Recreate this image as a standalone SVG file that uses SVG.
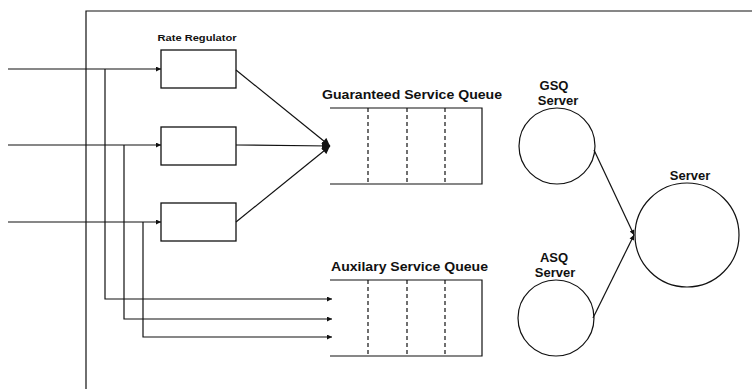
<svg xmlns="http://www.w3.org/2000/svg" width="752" height="389" viewBox="0 0 752 389">
<style>
.ln{stroke:#111;stroke-width:1.2;fill:none}
.bx{stroke:#111;stroke-width:1.3;fill:#fff}
.dash{stroke:#111;stroke-width:1.2;stroke-dasharray:4,3;fill:none}
.t{font-family:"Liberation Sans",Arial,sans-serif;font-weight:bold;fill:#111}
.s{font-size:13px;text-anchor:middle}
</style>
<defs>
<marker id="ah" viewBox="0 0 10 10" refX="10" refY="5" markerWidth="7" markerHeight="5" orient="auto" markerUnits="userSpaceOnUse">
<path d="M0,0 L10,5 L0,10 z" fill="#111"/>
</marker>
<marker id="ahb" viewBox="0 0 10 10" refX="10" refY="5" markerWidth="9" markerHeight="8" orient="auto" markerUnits="userSpaceOnUse">
<path d="M0,0 L10,5 L0,10 z" fill="#111"/>
</marker>
</defs>
<rect width="752" height="389" fill="#fff"/>
<g id="frame">
<path class="ln" d="M86,389 V11 H752"/>
</g>
<g id="rate-regulator-1">
<rect class="bx" x="161" y="50" width="75" height="38"/>
<text class="t" x="197" y="41" font-size="8.5" text-anchor="middle" textLength="79" lengthAdjust="spacingAndGlyphs">Rate Regulator</text>
</g>
<g id="rate-regulator-2">
<rect class="bx" x="161" y="127" width="75" height="38"/>
</g>
<g id="rate-regulator-3">
<rect class="bx" x="161" y="203" width="75" height="38"/>
</g>
<g id="gsq">
<text class="t" x="322" y="99" font-size="13" textLength="180" lengthAdjust="spacingAndGlyphs">Guaranteed Service Queue</text>
<path class="ln" d="M330,108 H482 V184 H330"/>
<path class="dash" d="M368,108 V184 M407,108 V184 M445,108 V184"/>
</g>
<g id="asq">
<text class="t" x="331" y="271" font-size="13" textLength="157" lengthAdjust="spacingAndGlyphs">Auxilary Service Queue</text>
<path class="ln" d="M330,280 H482 V356 H330"/>
<path class="dash" d="M368,280 V356 M407,280 V356 M445,280 V356"/>
</g>
<g id="gsq-server">
<text class="t s" x="554" y="90">GSQ</text>
<text class="t s" x="558" y="105">Server</text>
<circle class="ln" cx="557" cy="146" r="38"/>
</g>
<g id="asq-server">
<text class="t s" x="554" y="262">ASQ</text>
<text class="t s" x="555" y="277">Server</text>
<circle class="ln" cx="556" cy="318" r="38"/>
</g>
<g id="server">
<text class="t s" x="690" y="180">Server</text>
<circle class="ln" cx="687" cy="235" r="52"/>
</g>
<g id="connectors">
<path class="ln" d="M8,69 H161" marker-end="url(#ah)"/>
<path class="ln" d="M8,145 H161" marker-end="url(#ah)"/>
<path class="ln" d="M8,222 H161" marker-end="url(#ah)"/>
<path class="ln" d="M105,69 V299 H332" marker-end="url(#ah)"/>
<path class="ln" d="M124,145 V319 H332" marker-end="url(#ah)"/>
<path class="ln" d="M143,222 V337 H332" marker-end="url(#ah)"/>
<path class="ln" d="M236,70 L330,146" marker-end="url(#ahb)"/>
<path class="ln" d="M236,145 L330,146" marker-end="url(#ahb)"/>
<path class="ln" d="M236,222 L330,146" marker-end="url(#ahb)"/>
<path class="ln" d="M594,150 L634,235" marker-end="url(#ah)"/>
<path class="ln" d="M593,318 L634,235" marker-end="url(#ah)"/>
</g>
</svg>
